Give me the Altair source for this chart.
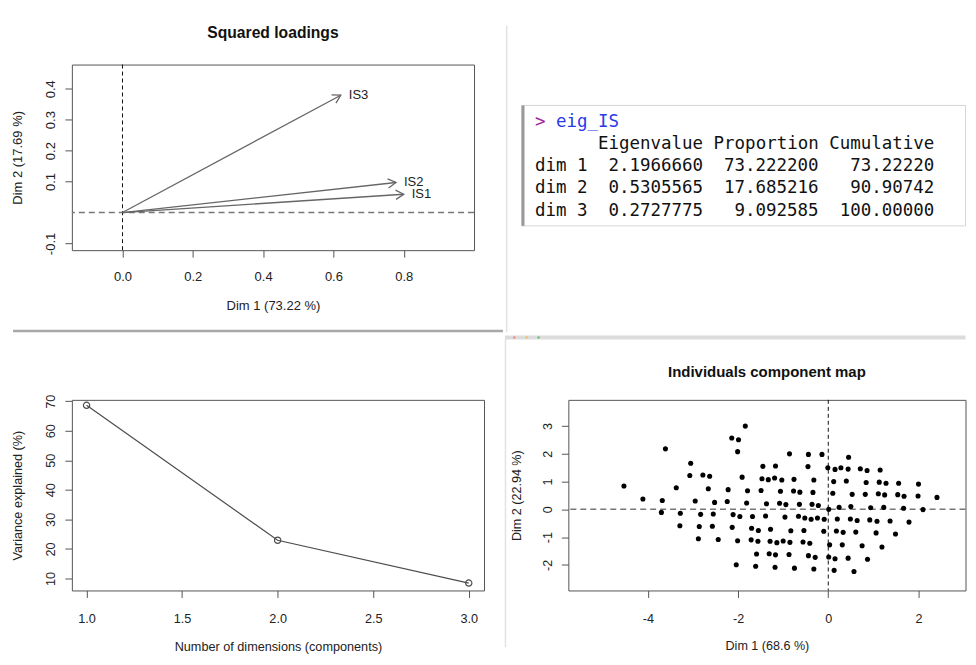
import math
import altair as alt
import pandas as pd

# ---------------- data ----------------
loading_vars = ["IS1", "IS2", "IS3"]
loading_dim1 = [0.800, 0.778, 0.621]
loading_dim2 = [0.059, 0.097, 0.379]

scree_dims = [1, 2, 3]
scree_var = [68.6, 22.94, 8.46]

ind_dim1 = [-4.53, -4.11, -3.68, -3.70, -3.61, -3.37, -3.28, -3.29, -3.05, -3.07,
            -2.95, -2.78, -2.63, -2.66, -2.83, -2.86, -2.88, -2.52, -2.55, -2.57,
            -2.44, -2.22, -2.24, -2.11, -2.13, -2.14, -1.99, -2.01, -1.84, -1.91,
            -1.79, -1.81, -1.96, -2.01, -2.04, -1.68, -1.70, -1.71, -1.55, -1.56,
            -1.59, -1.61, -1.45, -1.47, -1.49, -1.37, -1.39, -1.28, -1.29, -1.31,
            -1.17, -1.19, -1.33, -1.03, -1.06, -1.08, -1.14, -1.17, -1.18, -1.00,
            -0.94, -0.96, -0.86, -0.76, -0.77, -0.83, -0.85, -0.87, -0.75, -0.63,
            -0.64, -0.66, -0.52, -0.54, -0.56, -0.44, -0.45, -0.32, -0.34, -0.36,
            -0.38, -0.41, -0.44, -0.29, -0.32, -0.22, -0.24, -0.14, -0.09, -0.10,
            -0.01, 0.01, 0.03, 0.01, 0.10, 0.12, 0.15, 0.28, 0.20, 0.18,
            0.15, 0.13, 0.24, 0.33, 0.31, 0.44, 0.40, 0.45, 0.44, 0.53,
            0.50, 0.49, 0.57, 0.64, 0.61, 0.71, 0.75, 0.82, 0.84, 0.86,
            0.94, 0.92, 0.87, 1.08, 1.06, 1.11, 1.13, 1.15, 1.25, 1.23,
            1.28, 1.19, 1.37, 1.54, 1.56, 1.49, 1.68, 1.67, 1.79, 1.99,
            2.00, 2.10, 2.41]
ind_dim2 = [0.84, 0.37, 0.32, -0.11, 2.18, 0.78, -0.14, -0.59, 1.66, 1.22,
            0.30, 1.24, 1.19, 0.74, -0.18, -0.62, -1.06, 0.25, -0.17, -0.61,
            -1.09, 0.71, 0.28, -0.19, -0.65, 2.57, 2.51, 2.08, 3.00, 1.16,
            0.67, 0.23, -0.26, -1.13, -2.00, -0.26, -0.68, -1.10, -0.76, -1.15,
            -1.61, -2.05, 1.55, 1.10, 0.68, 0.20, -0.24, -0.72, -1.15, -1.60,
            1.56, 1.13, 1.07, 1.06, 0.65, 0.22, -1.20, -1.64, -2.09, -1.14,
            0.17, -0.28, 2.00, 1.08, 0.66, -0.77, -1.19, -1.63, -2.12, 0.62,
            0.18, -0.25, -0.31, -0.76, -1.18, 1.98, 1.54, 1.06, 0.61, 0.18,
            -0.36, -1.22, -1.67, -1.73, -2.15, 0.14, -0.31, 1.98, -0.36, -0.79,
            1.50, 0.00, -1.28, -1.72, 0.58, 1.00, 1.44, 1.50, -0.35, -0.78,
            -1.78, -2.20, 0.07, -0.83, -1.28, 1.45, 1.02, 1.88, -1.76, 0.54,
            0.10, -0.35, -2.24, -0.40, -0.82, 1.46, -1.31, 0.54, 0.97, 1.40,
            0.06, -0.38, -1.80, -0.43, -0.85, 0.56, 0.98, 1.42, 0.52, 0.07,
            0.94, -1.36, -0.42, 0.53, 0.94, -0.89, 0.47, 0.04, -0.46, 0.48,
            0.91, -0.01, 0.43]

eig_command = "eig_IS"
eig_dims = ["dim 1", "dim 2", "dim 3"]
eig_cols = ["Eigenvalue", "Proportion", "Cumulative"]
eig_values = ["2.1966660", "0.5305565", "0.2727775"]
eig_prop = ["73.222200", "17.685216", "9.092585"]
eig_cum = ["73.22220", "90.90742", "100.00000"]

# ---------------- styling helpers ----------------
SANS = "Liberation Sans"
MONO = "DejaVu Sans Mono"
INK = "#222222"
BOX = "#555555"
MINUS = "\u2212"


def axis(values, fmt, fs, orient, pad, extent, tpad, title):
    p = dict(values=values,
             labelExpr="replace(format(datum.value, '%s'), '%s', '-')" % (fmt, MINUS),
             domain=False, grid=False, ticks=True, tickSize=7, tickColor=BOX, tickWidth=1,
             labelFont=SANS, labelFontSize=fs, labelColor=INK, labelPadding=pad,
             labelFlush=False, labelOverlap=False,
             titleFont=SANS, titleFontSize=fs, titleColor=INK, titleFontWeight="normal",
             titlePadding=tpad, minExtent=extent, maxExtent=extent, title=title)
    if orient == "x":
        p.update(labelAngle=0, labelAlign="center", labelBaseline="top",
                 titleAngle=0, titleAlign="center", titleBaseline="top")
    else:
        p.update(labelAngle=270, labelAlign="center", labelBaseline="alphabetic",
                 titleAngle=270, titleAlign="center", titleBaseline="bottom")
    return alt.Axis(**p)


zero_df = pd.DataFrame({"z": [0.0]})

# ---------------- A: squared loadings ----------------
A_W, A_H = 403, 186
A_XD = [-0.144, 1.0]
A_YD = [-0.1216, 0.478]
sxA = A_W / (A_XD[1] - A_XD[0])
syA = A_H / (A_YD[1] - A_YD[0])
dfA = pd.DataFrame({"var": loading_vars, "d1": loading_dim1, "d2": loading_dim2})
dfA["x0"] = 0.0
dfA["y0"] = 0.0
dfA["ang"] = [math.degrees(math.atan2(-b * syA, a * sxA)) % 360
              for a, b in zip(loading_dim1, loading_dim2)]

axAx = axis([0, 0.2, 0.4, 0.6, 0.8], ".1f", 13, "x", 13, 32, 17.6, "Dim 1 (73.22 %)")
axAy = axis([-0.1, 0.1, 0.2, 0.3, 0.4], ".1f", 13, "y", 10, 30, 17, "Dim 2 (17.69 %)")
scAx = alt.Scale(domain=A_XD, zero=False, nice=False)
scAy = alt.Scale(domain=A_YD, zero=False, nice=False)


def XA(f):
    return alt.X(f, type="quantitative", scale=scAx, axis=axAx)


def YA(f):
    return alt.Y(f, type="quantitative", scale=scAy, axis=axAy)


a_h = alt.Chart(zero_df).mark_rule(color="#777777", strokeWidth=1.5, strokeDash=[6, 4]).encode(y=YA("z"))
a_v = alt.Chart(zero_df).mark_rule(color="#111111", strokeWidth=1, strokeDash=[4, 3]).encode(x=XA("z"))
a_shaft = alt.Chart(dfA).mark_rule(color="#666666", strokeWidth=1.3).encode(
    x=XA("x0"), y=YA("y0"), x2="d1", y2="d2")
a_head = alt.Chart(dfA).mark_point(shape="M-1,-0.577L0,0L-1,0.577", size=256, filled=False,
                                   color="#666666", strokeWidth=1.3, opacity=1).encode(
    x=XA("d1"), y=YA("d2"), angle=alt.Angle("ang:Q", scale=None))
a_lab = alt.Chart(dfA).mark_text(align="left", baseline="middle", dx=8, font=SANS,
                                 fontSize=13, color=INK).encode(x=XA("d1"), y=YA("d2"), text="var:N")

A = alt.layer(a_h, a_v, a_shaft, a_head, a_lab).properties(
    width=A_W, height=A_H,
    title=alt.TitleParams("Squared loadings", font=SANS, fontSize=15.7, fontWeight="bold",
                          color="#111111", anchor="middle", frame="group",
                          baseline="alphabetic", offset=10.8))

# ---------------- B: scree ----------------
B_W, B_H = 413, 191
dfB = pd.DataFrame({"dim": scree_dims, "var": scree_var})
xB = alt.X("dim:Q", scale=alt.Scale(domain=[0.923, 3.08], zero=False, nice=False),
           axis=axis([1, 1.5, 2, 2.5, 3], ".1f", 12.7, "x", 15, 31, 19.3,
                     "Number of dimensions (components)"))
yB = alt.Y("var:Q", scale=alt.Scale(domain=[5.95, 70.44], zero=False, nice=False),
           axis=axis([10, 20, 30, 40, 50, 60, 70], "d", 12.7, "y", 10, 30, 17,
                     "Variance explained (%)"))
b_line = alt.Chart(dfB).mark_line(color="#4d4d4d", strokeWidth=1.2).encode(x=xB, y=yB)
b_pts = alt.Chart(dfB).mark_point(shape="circle", filled=False, size=40, color="#4d4d4d",
                                  strokeWidth=1.2, opacity=1).encode(x=xB, y=yB)
B = alt.layer(b_line, b_pts).properties(width=B_W, height=B_H)

# ---------------- C: individuals map ----------------
C_W, C_H = 398, 191
C_XMIN = -5.763
C_PX = 45.2  # pixels per unit along Dim 1
dfC = pd.DataFrame({"d1": ind_dim1, "d2": ind_dim2})
axCx = axis([-4, -2, 0, 2], "d", 12.6, "x", 15, 30, 19.3, "Dim 1 (68.6 %)")
axCy = axis([-2, -1, 0, 1, 2, 3], "d", 12.6, "y", 10, 30, 15, "Dim 2 (22.94 %)")
scCx = alt.Scale(domain=[C_XMIN, C_XMIN + C_W / C_PX], zero=False, nice=False)
scCy = alt.Scale(domain=[-2.924, 3.946], zero=False, nice=False)


def XC(f):
    return alt.X(f, type="quantitative", scale=scCx, axis=axCx)


def YC(f):
    return alt.Y(f, type="quantitative", scale=scCy, axis=axCy)


c_h = alt.Chart(zero_df).mark_rule(color="#777777", strokeWidth=1.5, strokeDash=[6, 4]).encode(y=YC("z"))
c_v = alt.Chart(zero_df).mark_rule(color="#111111", strokeWidth=1, strokeDash=[4, 3]).encode(x=XC("z"))
c_pts = alt.Chart(dfC).mark_circle(color="#000000", size=26, opacity=1).encode(x=XC("d1"), y=YC("d2"))
C = alt.layer(c_h, c_v, c_pts).properties(
    width=C_W, height=C_H,
    title=alt.TitleParams("Individuals component map", font=SANS, fontSize=15, fontWeight="bold",
                          color="#111111", anchor="middle", frame="group",
                          baseline="alphabetic", offset=7))

# ---------------- D: console table ----------------
NB = "\u00a0"
header = " ".join(eig_cols)
rows = [d + v.rjust(11) + p.rjust(11) + c.rjust(11)
        for d, v, p, c in zip(eig_dims, eig_values, eig_prop, eig_cum)]
txt_rows = [(0, 0, ">", "#a0249a"), (0, 2, eig_command, "#2b3ae8"),
            (1, 6, header, "#111111")] + [(i + 2, 0, r, "#111111") for i, r in enumerate(rows)]
dfD = pd.DataFrame(txt_rows, columns=["line", "col", "text", "c"])
dfD["text"] = dfD["text"].str.replace(" ", NB)

D_W = C_W
CHAR = 10.54
D_C0 = 3.178
scDx = alt.Scale(domain=[D_C0, D_C0 + D_W / CHAR], zero=False, nice=False)
scDy = alt.Scale(domain=[-2.557, 5.773], zero=False, nice=False, reverse=True)
box_df = pd.DataFrame({"bx0": [-1.262], "bx1": [D_C0 + D_W / CHAR], "by0": [-0.721],
                       "by1": [4.684], "bl": [-1.13]})

d_box = alt.Chart(box_df).mark_rect(fill="#ffffff", stroke="#d6d6d6", strokeWidth=1).encode(
    x=alt.X("bx0:Q", scale=scDx, axis=None), x2="bx1",
    y=alt.Y("by0:Q", scale=scDy, axis=None), y2="by1")
d_bar = alt.Chart(box_df).mark_rule(color="#9a9a9a", strokeWidth=3).encode(
    x=alt.X("bl:Q", scale=scDx, axis=None),
    y=alt.Y("by0:Q", scale=scDy, axis=None), y2="by1")
d_txt = alt.Chart(dfD).mark_text(align="left", baseline="middle", font=MONO, fontSize=17.5).encode(
    x=alt.X("col:Q", scale=scDx, axis=None),
    y=alt.Y("line:Q", scale=scDy, axis=None),
    text="text:N", color=alt.Color("c:N", scale=None))

# screenshot panel separators and window buttons (decoration)
one = pd.DataFrame({"k": [0]})
sep1 = alt.Chart(one).mark_rule(color="#a8a8a8", strokeWidth=2.5).encode(
    x=alt.value(-556.5), x2=alt.value(-65.5), y=alt.value(267))
sep2 = alt.Chart(one).mark_rule(color="#e2e2e2", strokeWidth=1.5).encode(
    x=alt.value(-61.8), y=alt.value(-39), y2=alt.value(268))
sep3 = alt.Chart(one).mark_rule(color="#dcdcdc", strokeWidth=4).encode(
    x=alt.value(-63.5), x2=alt.value(D_W), y=alt.value(273.5))
sep4 = alt.Chart(one).mark_rule(color="#e2e2e2", strokeWidth=1.5).encode(
    x=alt.value(-63), y=alt.value(275), y2=alt.value(584))
btn_r = alt.Chart(one).mark_point(filled=True, size=6, opacity=1, color="#f08a8a").encode(
    x=alt.value(-54.2), y=alt.value(273.5))
btn_y = alt.Chart(one).mark_point(filled=True, size=6, opacity=1, color="#eec070").encode(
    x=alt.value(-41.8), y=alt.value(273.5))
btn_g = alt.Chart(one).mark_point(filled=True, size=6, opacity=1, color="#70c070").encode(
    x=alt.value(-29.8), y=alt.value(273.5))

D = alt.layer(sep1, sep2, sep3, sep4, btn_r, btn_y, btn_g, d_box, d_bar, d_txt).properties(
    width=D_W, height=186, view=alt.ViewBackground(stroke="transparent"))

chart = alt.concat(A, D, B, C, columns=2, bounds="flush",
                   spacing={"row": 150, "column": 84.5}).properties(
    padding={"left": 3, "top": 15, "right": 0, "bottom": 0},
    background="white").configure_view(stroke=BOX, strokeWidth=1)

chart.save("out.html", embed_options={"renderer": "svg", "actions": False})
